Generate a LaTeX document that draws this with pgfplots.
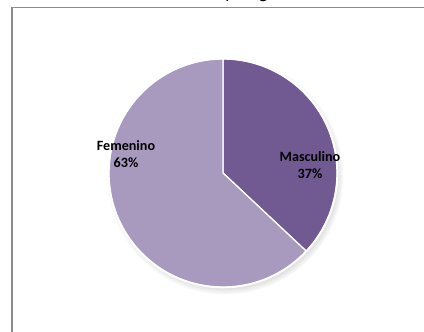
\documentclass[border=0pt]{standalone}
\usepackage{pgfplots}
\pgfplotsset{compat=1.18}
\usepackage{pgfplotstable}
\usepackage{fontspec}
\setmainfont{Carlito}
\usetikzlibrary{shadows,fadings}
\definecolor{masc}{HTML}{715A92}
\definecolor{fem}{HTML}{A899BF}
\definecolor{framec}{HTML}{8C8C8C}

\pgfplotstableread{
label value
Masculino 37
Femenino 63
}\piedata

\begin{document}
\begin{tikzpicture}[x=1bp,y=1bp]
\useasboundingbox (0,0) rectangle (424,332);
\pgfplotstablegetelem{0}{value}\of\piedata \let\vm\pgfplotsretval
\pgfplotstablegetelem{1}{value}\of\piedata \let\vf\pgfplotsretval
\pgfmathsetmacro\angm{90-3.6*\vm}
\pgfmathsetmacro\angf{\angm-3.6*\vf}
\begin{axis}[at={(0,0)},anchor=south west,width=424bp,height=332bp,
  scale only axis,xmin=0,xmax=424,ymin=0,ymax=332,hide axis,clip=false]
  % frame
  \draw[framec,line width=1.6bp] (axis cs:12,-5) -- (axis cs:12,324.3) -- (axis cs:430,324.3);
  % cut title
  \node[anchor=base,font=\fontsize{19}{23}\selectfont] at (axis cs:222,333.5) {Estudiantes y su género};
  % shadow
  \path[circular drop shadow={shadow xshift=2bp,shadow yshift=-3bp,shadow scale=1.03,opacity=0.6},fill=white]
    (axis cs:223,159) circle[radius=115bp];
  % slices
  \fill[masc,draw=white,line width=1.3bp] (axis cs:223,159) -- ++(90:114bp) arc[start angle=90,end angle=\angm,radius=114bp] -- cycle;
  \fill[fem,draw=white,line width=1.3bp] (axis cs:223,159) -- ++(\angm:114bp) arc[start angle=\angm,end angle=\angf,radius=114bp] -- cycle;
  \draw[white,line width=1.6bp] (axis cs:223,159) circle[radius=114.5bp];
  % labels
  \node[align=center,font=\bfseries\fontsize{14.2}{17.5}\selectfont] at (axis cs:126,178) {\pgfplotstablegetelem{1}{label}\of\piedata\pgfplotsretval\\\vf\%};
  \node[align=center,font=\bfseries\fontsize{14.2}{17.5}\selectfont] at (axis cs:310,167) {\pgfplotstablegetelem{0}{label}\of\piedata\pgfplotsretval\\\vm\%};
\end{axis}
\end{tikzpicture}
\end{document}
